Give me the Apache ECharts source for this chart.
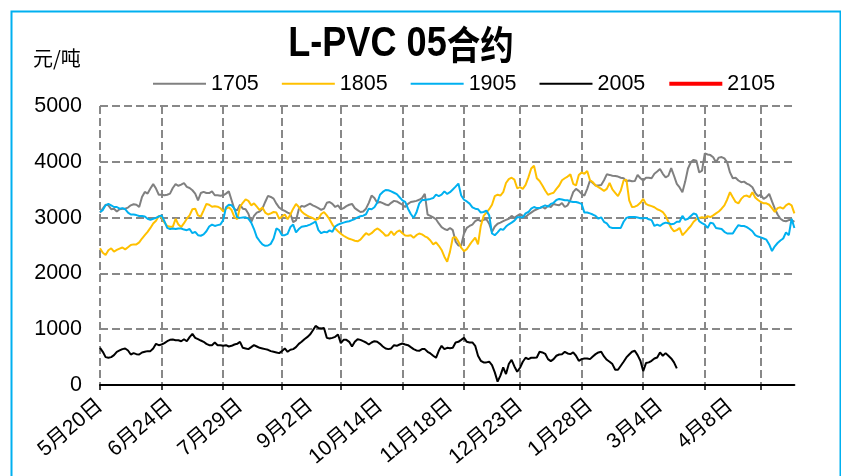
<!DOCTYPE html>
<html>
<head>
<meta charset="utf-8">
<script src="https://cdn.jsdelivr.net/npm/echarts@6/dist/echarts.min.js"></script>
<style>
  html, body { margin: 0; padding: 0; background: #fff; }
  #chart { width: 841px; height: 476px; }
</style>
</head>
<body>
<div id="chart"></div>
<script>
// x axis: trading-day index, a label every 25 days
const dateLabels = ['5月20日', '6月24日', '7月29日', '9月2日', '10月14日', '11月18日', '12月23日', '1月28日', '3月4日', '4月8日']
const labelStep = 25
const tickIdx = [0, 22, 44, 65, 86, 108, 130, 150, 172, 194, 216, 236]
const yTicks = [0, 1000, 2000, 3000, 4000, 5000]

const s1705 = [3090,3160,3230,3220,3150,3160,3110,3150,3160,3160,3180,3220,3240,3230,3190,3370,3460,3430,3520,3600,3520,3410,3410,3400,3410,3430,3530,3600,3570,3590,3620,3550,3530,3490,3430,3310,3440,3460,3440,3440,3470,3400,3400,3390,3400,3430,3470,3310,3150,3130,3230,3160,3150,3070,2920,3030,3090,3110,3160,3280,3390,3370,3340,
  3250,3180,3140,3120,3090,3065,2920,2950,3150,3210,3195,3225,3250,3220,3195,3170,3140,3160,3265,3280,3245,3190,3220,3150,3170,3205,3230,3245,3170,3135,3100,3110,3160,3265,3395,3350,3265,3280,3260,3235,3220,3265,3300,3290,3260,3230,3190,3245,3280,3290,3300,3320,3350,3425,3055,3030,3005,2970,2895,2830,2795,2775,2815,
  2775,2570,2500,2500,2715,2815,2850,2875,2935,2965,2935,2960,2970,2890,2745,2840,2890,2910,2935,2960,2980,3030,2995,3030,3065,3030,3010,3055,3090,3125,3150,3170,3190,3160,3215,3190,3245,3230,3220,3260,3190,3220,3315,3455,3515,3480,3425,3395,3515,3665,3620,3575,3575,3585,3670,3775,3765,3750,3745,3735,3715,3705,
  3650,3665,3650,3655,3765,3705,3665,3715,3715,3705,3785,3825,3870,3785,3720,3750,3885,3750,3605,3540,3455,3645,3880,3990,4035,4020,3810,3840,4150,4130,4120,4080,3990,4075,4085,4060,3990,3810,3705,3715,3665,3635,3645,3610,3585,3545,3445,3385,3410,3335,3365,3425,3290,3160,3055,2980,2945,2935,2955,2955,2925]

const s1805 = [2450,2370,2330,2415,2450,2390,2420,2445,2465,2430,2470,2510,2520,2520,2555,2625,2685,2745,2815,2895,2945,3030,3010,2910,2850,2835,2835,2980,2875,2830,2900,2980,3040,3150,3160,3040,3020,3130,3245,3230,3195,3205,3195,3170,3110,3160,3185,3135,3010,2970,3190,3265,3325,3300,3220,3255,3195,3135,3180,3090,3055,3075,3100,
  3090,2980,3020,3055,2970,3055,3160,3245,3190,3110,3065,3035,3010,2990,2960,2980,3065,3100,3040,2965,2875,2805,2755,2710,2675,2645,2620,2605,2585,2575,2605,2665,2720,2690,2720,2770,2805,2775,2730,2675,2685,2755,2685,2745,2770,2720,2680,2675,2685,2640,2685,2715,2700,2665,2640,2590,2520,2555,2495,2420,2300,2210,2390,
  2640,2650,2570,2460,2400,2435,2510,2580,2640,2520,2850,3030,3090,3150,3230,3385,3410,3395,3455,3620,3690,3715,3680,3525,3545,3515,3585,3720,3880,3930,3705,3655,3575,3485,3410,3430,3445,3515,3575,3670,3705,3735,3775,3605,3575,3765,3810,3785,3835,3670,3635,3575,3545,3515,3480,3515,3620,3505,3445,3385,3485,3665,
  3680,3310,3190,3195,3220,3265,3335,3245,3220,3205,3185,3150,3130,3100,3030,2925,2815,2755,2775,2815,2685,2735,2795,2850,2925,2970,2995,3005,2995,3025,3010,3040,3075,3110,3160,3220,3325,3455,3365,3280,3255,3335,3385,3395,3365,3455,3360,3315,3280,3255,3255,3230,3170,3100,3170,3185,3160,3220,3250,3220,3075]

const s1905 = [3100,3135,3220,3245,3220,3190,3190,3160,3170,3150,3090,3055,3055,3045,3030,3030,3020,2980,2960,2980,2995,3020,3040,2935,2815,2795,2805,2795,2805,2805,2785,2775,2795,2720,2745,2685,2675,2700,2755,2840,2875,2850,2865,2875,2955,3185,3230,3220,3160,3005,2995,3000,3005,2980,2910,2795,2650,2580,2520,2495,2500,2530,2625,
  2805,2775,2685,2685,2710,2830,2875,2735,2795,2835,2845,2855,2875,2900,2930,2775,2720,2745,2735,2770,2745,2840,2875,2895,2910,2925,2935,2955,2975,3005,3025,3035,3060,3160,3150,3185,3265,3410,3460,3495,3490,3470,3445,3420,3365,3310,3280,3160,3065,2995,3090,3250,3315,3315,3325,3335,3350,3410,3385,3410,3470,3425,3455,
  3505,3555,3610,3395,3320,3290,3250,3185,3160,3150,3090,3100,3125,3040,2715,2685,2735,2795,2780,2840,2880,2910,2945,3005,3005,3005,3075,3100,3160,3190,3170,3170,3195,3220,3195,3245,3265,3315,3335,3325,3310,3310,3290,3280,3280,3265,3245,3090,3090,3075,3055,3030,2980,3005,2925,2895,2830,2815,2815,2815,2815,2925,
  2995,3010,3010,3010,3000,2990,2990,2995,2970,2955,2850,2875,2850,2890,2910,2900,2880,2890,2925,2925,3030,2960,2980,3030,3075,3055,2935,2900,2875,2815,2910,2895,2815,2805,2795,2745,2715,2715,2715,2795,2865,2850,2850,2830,2795,2755,2685,2660,2645,2625,2605,2520,2400,2485,2545,2590,2625,2735,2685,2980,2815]

const s2005 = [666,595,500,488,500,535,595,619,643,655,619,547,571,553,547,583,595,607,607,655,738,714,726,750,785,809,815,803,803,785,821,785,857,916,845,821,797,774,738,714,714,762,714,714,702,714,690,702,726,738,774,666,655,643,678,714,690,666,655,643,631,607,595,583,571,607,655,595,631,643,678,738,774,821,857,904,976,1059,1023,1012,1023,845,833,845,863,904,750,809,809,774,690,774,821,809,785,762,726,762,785,774,738,690,655,643,655,714,
  702,726,744,726,714,678,643,619,613,643,643,595,565,524,488,613,702,643,666,660,666,762,774,809,845,774,762,762,702,524,434,405,405,417,357,226,60,167,315,196,375,452,333,238,309,417,488,464,488,488,494,595,583,559,464,428,464,524,547,553,595,565,553,583,524,434,464,476,476,464,512,553,583,595,512,452,417,375,274,274,345,417,494,547,595,613,536,434,250,393,405,434,476,494,583,524,571,524,476,405,297]

const s2105 = []

const categories = s1705.map((_, i) => i)
const labelIdx = dateLabels.map((_, k) => k * labelStep)

const chart = echarts.init(document.getElementById('chart'))
const cjk = '"Liberation Sans", "Noto Sans CJK SC", sans-serif'

const line = (name, data, color, width) => ({
  name, type: 'line', data, symbol: 'none', smooth: false,
  lineStyle: { color, width }, itemStyle: { color }, animation: false
})

chart.setOption({
  animation: false,
  backgroundColor: '#fff',
  graphic: [
    { type: 'rect', left: 9, top: 9, shape: { width: 829, height: 480 },
      style: { fill: 'none', stroke: '#00b0f0', lineWidth: 2 }, silent: true },
    { type: 'text', left: 33, top: 48,
      style: { text: '元/吨', font: '20px "Noto Sans CJK SC"', fill: '#000' } },
    // title, narrowed like the original condensed face
    { type: 'text', x: 401, y: 44, scaleX: 0.86,
      style: {
        text: '{a|L-PVC 05}{b|合约}', align: 'center', verticalAlign: 'middle',
        rich: {
          a: { fontFamily: '"Liberation Sans"', fontWeight: 'bold', fontSize: 42, fill: '#000' },
          b: { fontFamily: '"Noto Sans CJK SC"', fontWeight: 'bold', fontSize: 39, fill: '#000' }
        }
      } }
  ],
  legend: {
    left: 147, top: 68, itemWidth: 53, itemHeight: 14, itemGap: 22,
    itemStyle: { opacity: 0 },
    textStyle: { fontFamily: cjk, fontSize: 21.5, color: '#000' },
    data: ['1705', '1805', '1905', '2005', { name: '2105', lineStyle: { width: 4 } }]
  },
  grid: { left: 100, right: 46.6, top: 106, bottom: 91 },
  xAxis: {
    type: 'category', data: categories, boundaryGap: false,
    axisLine: { lineStyle: { color: '#000', width: 2 } },
    axisTick: { show: true, customValues: tickIdx, length: 5, lineStyle: { color: '#000', width: 1.5 } },
    axisLabel: {
      customValues: labelIdx, rotate: 40, margin: 18,
      fontFamily: cjk, fontSize: 21, color: '#000',
      formatter: v => dateLabels[Math.round(v / labelStep)] || ''
    },
    splitLine: { show: true, lineStyle: { color: '#888', width: 2, type: [8, 4] } }
  },
  yAxis: {
    type: 'value', min: yTicks[0], max: yTicks[yTicks.length - 1], interval: 1000,
    axisLine: { show: false }, axisTick: { show: false },
    axisLabel: { fontFamily: cjk, fontSize: 21.5, color: '#000', margin: 18, formatter: v => String(v) },
    splitLine: { lineStyle: { color: '#888', width: 2, type: [8, 4] } }
  },
  series: [
    line('1705', s1705, '#808080', 2),
    line('1805', s1805, '#ffc000', 2),
    line('1905', s1905, '#00b0f0', 2),
    line('2005', s2005, '#000000', 2),
    line('2105', s2105, '#ff0000', 4)
  ]
})
</script>
</body>
</html>
